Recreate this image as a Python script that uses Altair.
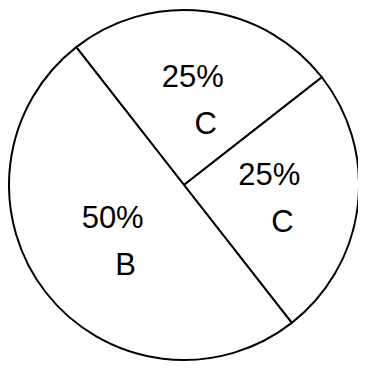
import altair as alt
import pandas as pd
import math

categories = ["C", "C", "B"]
shares = [25, 25, 50]
pct_labels = ["25%", "25%", "50%"]

df = pd.DataFrame({
    "cat": categories,
    "share": shares,
    "pct": pct_labels,
    "idx": list(range(len(categories))),
})

start = math.radians(-38)
theta_scale = alt.Scale(domain=[0, 100], range=[start, start + 2 * math.pi])

cx, cy, R = 176, 177, 175

base = alt.Chart(df).encode(
    theta=alt.Theta("share:Q", stack=True, scale=theta_scale),
    order=alt.Order("idx:Q"),
    x=alt.value(cx),
    y=alt.value(cy),
)

arcs = base.mark_arc(fill="white", stroke="black", strokeWidth=2).encode(
    radius=alt.value(R)
)

font = "Liberation Sans"
pct = base.mark_text(font=font, fontSize=31, color="black", dy=-20, dx=-2,
                     align="center", baseline="middle").encode(
    radius=alt.value(88), text="pct:N"
)
lab = base.mark_text(font=font, fontSize=31, color="black", dy=27, dx=11,
                     align="center", baseline="middle").encode(
    radius=alt.value(88), text="cat:N"
)

chart = alt.layer(arcs, pct, lab).properties(
    width=350, height=356, padding=0,
    autosize=alt.AutoSizeParams(type="none"),
).configure_view(stroke=None)

chart.save("out.html", embed_options={"renderer": "svg", "actions": False})
